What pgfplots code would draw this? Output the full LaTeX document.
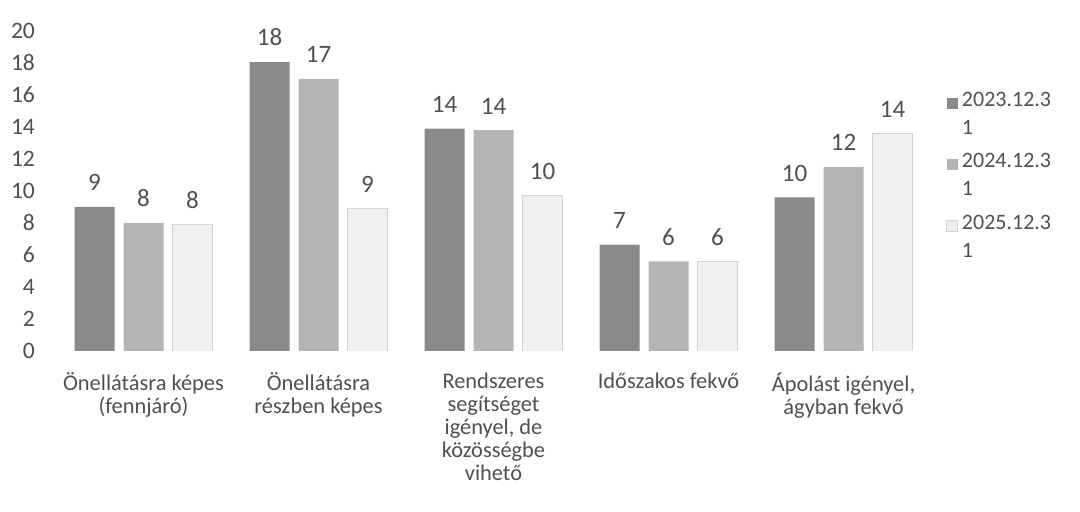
\documentclass[border=0pt]{standalone}
\usepackage{pgfplots}
\pgfplotsset{compat=1.18}
\usepackage{fontspec}
\setmainfont{Carlito}
\definecolor{txt}{HTML}{505050}
\definecolor{cA}{HTML}{8A8A8A}
\definecolor{cB}{HTML}{B4B4B4}
\definecolor{cC}{HTML}{F0F0F0}
\begin{document}
\begin{tikzpicture}
\useasboundingbox (0,0) rectangle (540pt,256pt);
\begin{axis}[
  at={(28pt,80.5pt)}, anchor=south west,
  scale only axis, width=437.5pt, height=160pt,
  xmin=-0.5, xmax=4.5, ymin=0, ymax=20,
  ybar, bar width=20pt,
  axis line style={draw=none}, tick style={draw=none},
  ytick={0,2,...,20},
  yticklabel style={font=\fontsize{11.8}{13}\selectfont, text=txt, xshift=-7pt},
  /pgf/number format/assume math mode=true,
  xtick={0,1,2,3,4},
  xticklabels={{Önellátásra képes\\(fennjáró)},{Önellátásra\\részben képes},{Rendszeres\\segítséget\\igényel, de\\közösségbe\\vihető},{Időszakos fekvő},{Ápolást igényel,\\ágyban fekvő}},
  xticklabel style={font=\fontsize{11.2}{11.6}\selectfont, text=txt, align=center, yshift=-3pt},
  point meta=explicit symbolic,
  nodes near coords,
  nodes near coords style={font=\fontsize{12.5}{14}\selectfont, text=txt, anchor=south, yshift=4.5pt},
  legend style={at={(rel axis cs:1.01,0.835)}, anchor=north west, draw=none, fill=none,
    font=\fontsize{11}{14}\selectfont, text=txt, row sep=4pt, cells={align=left}},
  legend image code/.code={\fill[#1] (0pt,3pt) rectangle (5.5pt,8.5pt);},
]
\addplot[fill=cA, draw=none, bar shift=-24.5pt] coordinates {(0,9.0) [9] (1,18.05) [18] (2,13.9) [14] (3,6.65) [7] (4,9.6) [10]};
\addlegendentry{2023.12.3\\1}
\addplot[fill=cB, draw=none, bar shift=0pt] coordinates {(0,8.0) [8] (1,17.0) [17] (2,13.8) [14] (3,5.6) [6] (4,11.5) [12]};
\addlegendentry{2024.12.3\\1}
\addplot[fill=cC, draw=gray!35, bar shift=24.5pt] coordinates {(0,7.9) [8] (1,8.9) [9] (2,9.7) [10] (3,5.6) [6] (4,13.6) [14]};
\addlegendentry{2025.12.3\\1}
\end{axis}
\end{tikzpicture}
\end{document}
